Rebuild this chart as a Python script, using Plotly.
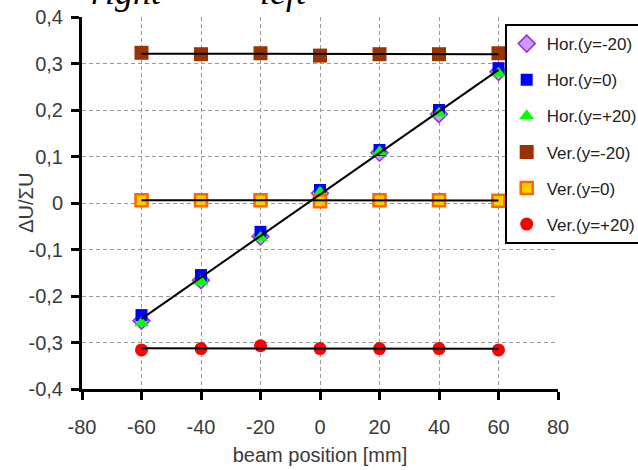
import numpy as np
import plotly.graph_objects as go

# ---- data ----
positions = [-60, -40, -20, 0, 20, 40, 60]
hor_m20 = [-0.253, -0.166, -0.072, 0.021, 0.108, 0.191, 0.282]
hor_0 = [-0.241, -0.155, -0.062, 0.028, 0.114, 0.200, 0.290]
hor_p20 = [-0.258, -0.169, -0.074, 0.023, 0.110, 0.193, 0.279]
ver_m20 = [0.323, 0.320, 0.322, 0.317, 0.320, 0.320, 0.322]
ver_0 = [0.006, 0.006, 0.006, 0.004, 0.006, 0.006, 0.005]
ver_p20 = [-0.316, -0.313, -0.307, -0.313, -0.313, -0.313, -0.316]

x_tickvals = [-80, -60, -40, -20, 0, 20, 40, 60, 80]
x_ticktext = ["-80", "-60", "-40", "-20", "0", "20", "40", "60", "80"]
y_tickvals = [-0.4, -0.3, -0.2, -0.1, 0, 0.1, 0.2, 0.3, 0.4]
y_ticktext = ["-0,4", "-0,3", "-0,2", "-0,1", "0", "0,1", "0,2", "0,3", "0,4"]
x_gridvals = [-60, -40, -20, 0, 20, 40, 60]
y_gridvals = [-0.3, -0.2, -0.1, 0, 0.1, 0.2, 0.3]

series = [
    ("Hor.(y=-20)", hor_m20, dict(symbol="diamond", size=13, color="#CC99FF", line=dict(color="#9933CC", width=1.5))),
    ("Hor.(y=0)", hor_0, dict(symbol="square", size=12, color="#0000FF", line=dict(color="#0000FF", width=0))),
    ("Hor.(y=+20)", hor_p20, dict(symbol="triangle-up", size=13, color="#00FF00", line=dict(width=0))),
    ("Ver.(y=-20)", ver_m20, dict(symbol="square", size=14, color="#993300", line=dict(width=0))),
    ("Ver.(y=0)", ver_0, dict(symbol="square", size=12, color="#FFCC00", line=dict(color="#FF6600", width=2.5))),
    ("Ver.(y=+20)", ver_p20, dict(symbol="circle", size=13, color="#FF0000", line=dict(width=0))),
]

fig = go.Figure()
# invisible trace to create the overlay grid axes
fig.add_trace(go.Scatter(x=[None], y=[None], xaxis="x2", yaxis="y2",
                         showlegend=False, hoverinfo="skip"))
for i, (name, vals, mk) in enumerate(series):
    fig.add_trace(go.Scatter(x=positions, y=vals, mode="markers", name=name,
                             marker=mk, legendgroup=f"g{i}"))

# linear fit lines (black) through the groups
xa = np.array(positions, dtype=float)
fit_groups = [
    (np.concatenate([xa, xa, xa]), np.concatenate([hor_m20, hor_0, hor_p20])),
    (xa, np.array(ver_m20)),
    (xa, np.array(ver_0)),
    (xa, np.array(ver_p20)),
]
for gx, gy in fit_groups:
    k, b = np.polyfit(gx, gy, 1)
    xe = np.array([min(positions), max(positions)], dtype=float)
    fig.add_trace(go.Scatter(x=xe, y=k * xe + b, mode="lines",
                             line=dict(color="black", width=2),
                             showlegend=False, hoverinfo="skip"))

tick_font = dict(family="Liberation Sans, Arial, sans-serif", size=20, color="#3a3a3a")
grid = dict(gridcolor="#9a9a9a", gridwidth=1, griddash="4px,3px")

fig.update_layout(
    width=638, height=470,
    margin=dict(l=82, r=80, t=17, b=81, autoexpand=False),
    paper_bgcolor="white", plot_bgcolor="white",
    showlegend=True,
    legend=dict(x=0.888, y=0.981, xanchor="left", yanchor="top",
                bordercolor="black", borderwidth=2, bgcolor="white",
                font=dict(family="Liberation Sans, Arial, sans-serif", size=17, color="#222222"),
                tracegroupgap=11, traceorder="grouped"),
    xaxis=dict(range=[-80, 80], tickvals=x_tickvals, ticktext=x_ticktext,
               showline=True, linecolor="black", linewidth=3,
               ticks="outside", ticklen=8, tickwidth=3, tickcolor="black",
               showgrid=False, zeroline=False, tickfont=tick_font, ticklabelstandoff=10,
               title=dict(text="beam position [mm]", font=tick_font, standoff=11)),
    yaxis=dict(range=[-0.4, 0.4], tickvals=y_tickvals, ticktext=y_ticktext,
               showline=True, linecolor="black", linewidth=3,
               ticks="outside", ticklen=8, tickwidth=3, tickcolor="black",
               showgrid=False, zeroline=False, tickfont=tick_font, ticklabelstandoff=4),
    xaxis2=dict(overlaying="x", anchor="y2", range=[-80, 80], tickvals=x_gridvals,
                showgrid=True, showticklabels=False, ticks="", showline=False,
                zeroline=False, **grid),
    yaxis2=dict(overlaying="y", anchor="x2", range=[-0.4, 0.4], tickvals=y_gridvals,
                showgrid=True, showticklabels=False, ticks="", showline=False,
                zeroline=False, **grid),
)

# y-axis title
fig.add_annotation(text="ΔU/ΣU", xref="paper", yref="paper", x=-0.118, y=0.5,
                   xanchor="center", yanchor="middle", textangle=-90,
                   showarrow=False, font=tick_font)

serif = dict(family="Liberation Serif, Times New Roman, serif", size=36, color="black", style="italic")
fig.add_annotation(text="right", xref="paper", yref="paper", x=0.094, y=1.067,
                   xanchor="center", yanchor="middle", showarrow=False, font=serif)
fig.add_annotation(text="left", xref="paper", yref="paper", x=0.424, y=1.067,
                   xanchor="center", yanchor="middle", showarrow=False, font=serif)

fig.write_html("out.html", config={"displayModeBar": False},
               post_script="document.body.style.margin='0';document.body.style.overflow='hidden';")
